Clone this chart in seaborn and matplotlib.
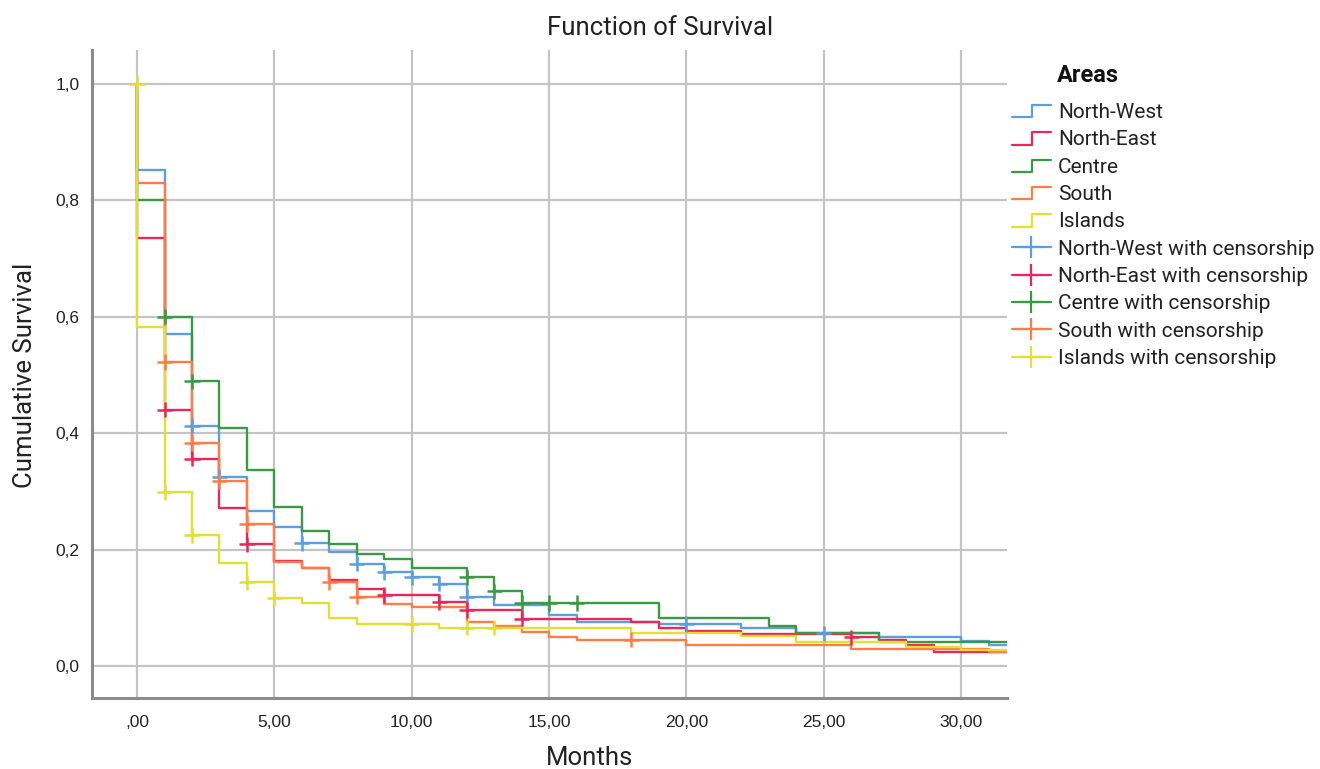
import numpy as np
import pandas as pd
import matplotlib
matplotlib.use("Agg")
import matplotlib.pyplot as plt
import seaborn as sns
from matplotlib.lines import Line2D
from matplotlib.legend_handler import HandlerBase

# ---------------- data ----------------
areas = ["North-West", "North-East", "Centre", "South", "Islands"]
colors = ["#5C9EE0", "#E8285A", "#3A9A44", "#FF7D45", "#E2DF33"]

nw_times = [0, 1, 2, 3, 4, 5, 6, 7, 8, 9, 10, 11, 12, 13, 15, 16, 19, 22, 24, 27, 30, 31]
nw_surv = [0.852, 0.570, 0.413, 0.325, 0.266, 0.238, 0.211, 0.196, 0.176, 0.161, 0.152,
           0.141, 0.119, 0.105, 0.087, 0.076, 0.072, 0.065, 0.056, 0.050, 0.043, 0.036]
nw_cens_t = [2, 3, 6, 8, 9, 10, 11, 12, 20, 25]
nw_cens_s = [0.413, 0.325, 0.211, 0.176, 0.161, 0.152, 0.141, 0.119, 0.072, 0.056]

ne_times = [0, 1, 2, 3, 4, 5, 6, 7, 8, 9, 11, 12, 14, 18, 19, 20, 22, 26, 27, 28, 29]
ne_surv = [0.735, 0.440, 0.356, 0.272, 0.209, 0.180, 0.168, 0.148, 0.133, 0.122, 0.110,
           0.096, 0.081, 0.076, 0.066, 0.060, 0.055, 0.049, 0.045, 0.036, 0.024]
ne_cens_t = [1, 2, 4, 9, 11, 12, 14, 26]
ne_cens_s = [0.440, 0.356, 0.209, 0.122, 0.110, 0.096, 0.081, 0.049]

ce_times = [0, 1, 2, 3, 4, 5, 6, 7, 8, 9, 10, 12, 13, 14, 19, 23, 24, 27]
ce_surv = [0.800, 0.600, 0.489, 0.408, 0.337, 0.273, 0.232, 0.209, 0.192, 0.184, 0.168,
           0.152, 0.128, 0.108, 0.082, 0.069, 0.056, 0.042]
ce_cens_t = [1, 2, 12, 13, 14, 15, 16]
ce_cens_s = [0.600, 0.489, 0.152, 0.128, 0.108, 0.108, 0.108]

so_times = [0, 1, 2, 3, 4, 5, 6, 7, 8, 9, 10, 12, 13, 14, 15, 16, 20, 26, 31]
so_surv = [0.829, 0.522, 0.383, 0.317, 0.244, 0.179, 0.168, 0.144, 0.119, 0.107, 0.101,
           0.076, 0.069, 0.058, 0.050, 0.045, 0.036, 0.030, 0.024]
so_cens_t = [1, 2, 3, 4, 7, 8, 18]
so_cens_s = [0.522, 0.383, 0.317, 0.244, 0.144, 0.119, 0.045]

is_times = [0, 1, 2, 3, 4, 5, 6, 7, 8, 11, 18, 22, 24, 28, 30]
is_surv = [0.583, 0.298, 0.2245, 0.1775, 0.144, 0.116, 0.109, 0.082, 0.072, 0.066,
           0.057, 0.0515, 0.042, 0.033, 0.028]
is_cens_t = [0, 1, 2, 4, 5, 10, 12, 13]
is_cens_s = [1.0, 0.298, 0.2245, 0.144, 0.116, 0.072, 0.066, 0.066]

x_ticks = [0, 5, 10, 15, 20, 25, 30]
x_labels = [",00", "5,00", "10,00", "15,00", "20,00", "25,00", "30,00"]
y_ticks = [0.0, 0.2, 0.4, 0.6, 0.8, 1.0]
y_labels = ["0,0", "0,2", "0,4", "0,6", "0,8", "1,0"]

# ---------------- build tables ----------------
series = {
    "North-West": (nw_times, nw_surv, nw_cens_t, nw_cens_s),
    "North-East": (ne_times, ne_surv, ne_cens_t, ne_cens_s),
    "Centre": (ce_times, ce_surv, ce_cens_t, ce_cens_s),
    "South": (so_times, so_surv, so_cens_t, so_cens_s),
    "Islands": (is_times, is_surv, is_cens_t, is_cens_s),
}
x_end = 33
rows, crow = [], []
for a in areas:
    t, s, ct, cs = series[a]
    tt = [0] + list(t) + [x_end]
    ss = [1.0] + list(s) + [s[-1]]
    for xv, yv in zip(tt, ss):
        rows.append({"area": a, "t": xv, "s": yv})
    for xv, yv in zip(ct, cs):
        crow.append({"area": a, "t": xv, "s": yv})
df = pd.DataFrame(rows)
cdf = pd.DataFrame(crow)
palette = dict(zip(areas, colors))

# ---------------- plot ----------------
sns.set_theme(style="white")
plt.rcParams["font.family"] = ["Roboto", "DejaVu Sans"]

fig = plt.figure(figsize=(13.2, 7.69), dpi=100)
ax = fig.add_axes([92 / 1320, 1 - 698 / 769, (1007 - 92) / 1320, (698 - 50) / 769])

sns.lineplot(data=df, x="t", y="s", hue="area", palette=palette, hue_order=areas,
             estimator=None, sort=False, drawstyle="steps-post", lw=1.7,
             legend=False, ax=ax, zorder=3)
sns.scatterplot(data=cdf, x="t", y="s", hue="area", palette=palette, hue_order=areas,
                marker="+", s=120, linewidth=1.8, legend=False, ax=ax, zorder=4)

ax.set_xlim(-1.64, 31.67)
ax.set_ylim(-0.055, 1.058)
ax.set_xticks(x_ticks)
ax.set_xticklabels(x_labels, fontfamily="Liberation Sans", fontsize=12.5, color="#222222")
ax.set_yticks(y_ticks)
ax.set_yticklabels(y_labels, fontfamily="Liberation Sans", fontsize=12.5, color="#222222")
ax.tick_params(axis="x", length=0, pad=12)
ax.tick_params(axis="y", length=0, pad=9)
ax.grid(True, color="#c4c4c4", lw=1.6, zorder=0)
ax.set_axisbelow(True)
for side in ["top", "right"]:
    ax.spines[side].set_visible(False)
for side in ["left", "bottom"]:
    ax.spines[side].set_color("#8c8c8c")
    ax.spines[side].set_linewidth(2.2)
ax.set_xlabel("")
ax.set_ylabel("")

fig.text(660 / 1320, 1 - 28 / 769, "Function of Survival", ha="center", va="center",
         fontsize=18.5, color="#222222")
fig.text(590 / 1320, 1 - 758 / 769, "Months", ha="center", va="center",
         fontsize=18.5, color="#222222")
fig.text(25 / 1320, 1 - 375 / 769, "Cumulative Survival", ha="center", va="center",
         rotation=90, fontsize=18.5, color="#222222")
fig.text(1057 / 1320, 1 - 75 / 769, "Areas", ha="left", va="center",
         fontsize=17, fontweight="bold", color="#111111")


class StepHandler(HandlerBase):
    def create_artists(self, legend, orig_handle, xdescent, ydescent, width, height,
                       fontsize, trans):
        x0, y0 = -xdescent, -ydescent
        xs = [x0, x0 + width * 0.52, x0 + width * 0.52, x0 + width]
        ys = [y0 + height * 0.05, y0 + height * 0.05, y0 + height * 0.9, y0 + height * 0.9]
        ln = Line2D(xs, ys, color=orig_handle.get_color(), lw=1.6, transform=trans)
        return [ln]


step_handles = [Line2D([], [], color=palette[a]) for a in areas]
cens_handles = [Line2D([], [], color=palette[a], lw=1.6, marker="+", markersize=16,
                       markeredgewidth=1.6) for a in areas]
handles = step_handles + cens_handles
labels = areas + [a + " with censorship" for a in areas]
hmap = {h: StepHandler() for h in step_handles}
fig.legend(handles, labels, handler_map=hmap, loc="upper left",
           bbox_to_anchor=(1012 / 1320, 1 - 103 / 769), frameon=False,
           borderpad=0, borderaxespad=0, handlelength=1.85, handletextpad=0.36,
           labelspacing=0.40, prop={"family": "Roboto", "size": 15},
           labelcolor="#222222")

fig.savefig("out.png", dpi=100)
